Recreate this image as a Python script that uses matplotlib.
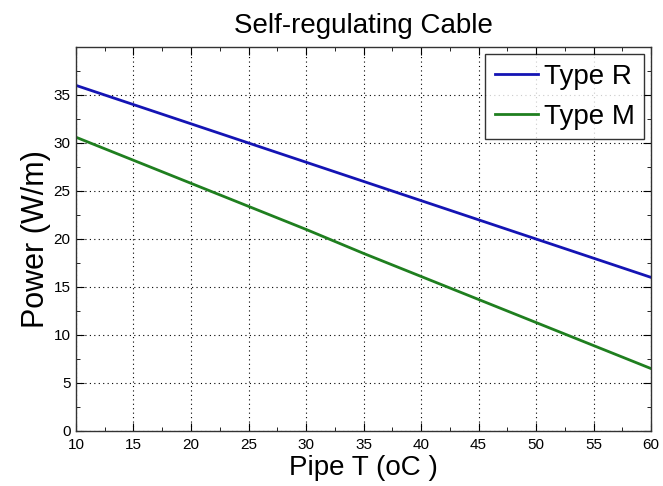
import matplotlib
matplotlib.use("Agg")
import matplotlib.pyplot as plt
from matplotlib.ticker import MultipleLocator

pipe_t = [10, 15, 20, 25, 30, 35, 40, 45, 50, 55, 60]
type_r = [36.0, 34.0, 32.0, 30.0, 28.0, 26.0, 24.0, 22.0, 20.0, 18.0, 16.0]
type_m = [30.6, 28.2, 25.8, 23.4, 21.0, 18.5, 16.1, 13.7, 11.3, 8.9, 6.5]
x_ticks = [10, 15, 20, 25, 30, 35, 40, 45, 50, 55, 60]
y_ticks = [0, 5, 10, 15, 20, 25, 30, 35]

plt.rcParams['font.family'] = ['Liberation Sans', 'DejaVu Sans']

fig = plt.figure(figsize=(6.63, 4.86), dpi=100)
ax = fig.add_axes([0.1146, 0.1132, 0.8674, 0.7901])

ax.plot(pipe_t, type_r, color='#1414b4', lw=2.0, label='Type R')
ax.plot(pipe_t, type_m, color='#1f7f1f', lw=2.0, label='Type M')

ax.set_xlim(10, 60)
ax.set_ylim(0, 40)
ax.set_xticks(x_ticks)
ax.set_yticks(y_ticks)
ax.xaxis.set_minor_locator(MultipleLocator(2.5))
ax.yaxis.set_minor_locator(MultipleLocator(2.5))
ax.tick_params(which='both', direction='in', top=True, right=True, labelsize=11, colors='black')
ax.tick_params(axis='x', which='major', pad=5)
ax.tick_params(axis='y', which='major', pad=4)
ax.tick_params(which='major', length=6)
ax.tick_params(which='minor', length=3)
ax.grid(True, which='major', linestyle=(0, (1, 3)), color='black', linewidth=0.8)
for s in ax.spines.values():
    s.set_linewidth(1.0)
    s.set_color('#333333')

ax.set_title('Self-regulating Cable', fontsize=20, pad=10)
ax.set_xlabel('Pipe T (oC )', fontsize=20, labelpad=2)
ax.set_ylabel('Power (W/m)', fontsize=22, labelpad=2)

leg = ax.legend(loc='upper right', fontsize=20, frameon=True, fancybox=False,
                edgecolor='black', handlelength=1.55, handletextpad=0.2,
                borderaxespad=0.25, labelspacing=0.5, borderpad=0.35)
leg.get_frame().set_linewidth(1.0)

fig.savefig('out.png', dpi=100)
